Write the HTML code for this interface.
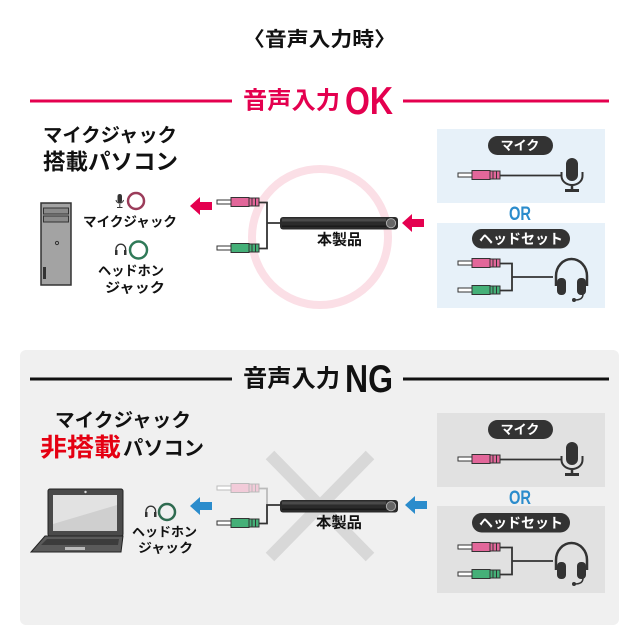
<!DOCTYPE html>
<html><head><meta charset="utf-8"><style>
html,body{margin:0;padding:0;background:#fff;}
svg{display:block;}
text{font-family:"Liberation Sans","Noto Sans CJK JP",sans-serif;font-weight:bold;}
</style></head><body>
<svg width="640" height="640" viewBox="0 0 640 640" xmlns="http://www.w3.org/2000/svg">
<defs>
 <g id="pp">
  <rect x="0" y="-2" width="14" height="4" fill="#fff" stroke="#333" stroke-width="1"/>
  <rect x="14" y="-4.5" width="18" height="9" fill="#e2679a" stroke="#333" stroke-width="1"/>
  <rect x="32" y="-4" width="10" height="8" fill="#e2679a" stroke="#333" stroke-width="1"/>
  <path d="M35 -4v8M38.5 -4v8" stroke="#333" stroke-width="1"/>
 </g>
 <g id="gp">
  <rect x="0" y="-2" width="14" height="4" fill="#fff" stroke="#333" stroke-width="1"/>
  <rect x="14" y="-4.5" width="18" height="9" fill="#45b078" stroke="#333" stroke-width="1"/>
  <rect x="32" y="-4" width="10" height="8" fill="#45b078" stroke="#333" stroke-width="1"/>
  <path d="M35 -4v8M38.5 -4v8" stroke="#333" stroke-width="1"/>
 </g>
 <g id="fp">
  <rect x="0" y="-2" width="14" height="4" fill="#fff" stroke="#bbb" stroke-width="1"/>
  <rect x="14" y="-4.5" width="18" height="9" fill="#f2cbd9" stroke="#bbb" stroke-width="1"/>
  <rect x="32" y="-4" width="10" height="8" fill="#f2cbd9" stroke="#bbb" stroke-width="1"/>
  <path d="M35 -4v8M38.5 -4v8" stroke="#bbb" stroke-width="1"/>
 </g>
 <g id="bar">
  <rect x="0" y="0" width="118" height="12.5" rx="3" fill="#2b2b2b"/>
  <rect x="2" y="1.5" width="104" height="3" fill="#4a4a4a"/>
  <rect x="2" y="8.5" width="104" height="1.5" fill="#1a1a1a"/>
  <circle cx="111" cy="6.2" r="4.6" fill="#666" stroke="#aaa" stroke-width="1"/>
 </g>
 <g id="panel">
  <text x="520" y="145.5" font-size="13" fill="#fff" text-anchor="middle" dominant-baseline="central">マイク</text>
  <use href="#pp" x="458" y="175"/>
  <path d="M500 175.5H561" stroke="#333" stroke-width="1.8" fill="none"/>
  <rect x="566" y="158" width="12" height="23" rx="6" fill="#333"/>
  <path d="M561.5 172V176A10.5 9 0 0 0 582.5 176V172" stroke="#333" stroke-width="2" fill="none"/>
  <path d="M572 185V190" stroke="#333" stroke-width="2.5"/>
  <path d="M565 190.5H579" stroke="#333" stroke-width="3"/>
  <use href="#pp" x="458" y="263"/>
  <use href="#gp" x="458" y="290"/>
  <path d="M500 263.5H512V290.5H500M512 277H553" stroke="#333" stroke-width="1.8" fill="none"/>
  <path d="M556 286V276A15.5 17 0 0 1 587 276V286" stroke="#333" stroke-width="2.5" fill="none"/>
  <rect x="557" y="278" width="9" height="17" rx="4" fill="#333"/>
  <rect x="577" y="278" width="9" height="17" rx="4" fill="#333"/>
  <path d="M583 294Q583 300 575 300" stroke="#333" stroke-width="1.5" fill="none"/>
  <circle cx="574" cy="300" r="2" fill="#333"/>
 </g>
</defs>

<!-- title -->
<text x="243" y="40" font-size="20" fill="#111" dominant-baseline="central" textLength="153" lengthAdjust="spacingAndGlyphs">〈音声入力時〉</text>

<!-- OK header -->
<path d="M30 101H232M403 101H609" stroke="#e4004f" stroke-width="3"/>
<text x="243" y="101" font-size="24" fill="#e4004f" dominant-baseline="central" textLength="97" lengthAdjust="spacingAndGlyphs">音声入力</text>
<text x="345" y="114" font-size="39" fill="#e4004f" textLength="48" lengthAdjust="spacingAndGlyphs">OK</text>

<!-- section 1 left -->
<text x="43" y="136" font-size="19" fill="#111" dominant-baseline="central" textLength="134" lengthAdjust="spacingAndGlyphs">マイクジャック</text>
<text x="43" y="162" font-size="22" fill="#111" dominant-baseline="central" textLength="135" lengthAdjust="spacingAndGlyphs">搭載パソコン</text>

<rect x="41" y="203" width="30" height="82" fill="#a3a3a3" stroke="#333" stroke-width="1.5"/>
<rect x="43.5" y="208" width="25" height="6" fill="#8a8a8a" stroke="#333" stroke-width="1"/>
<rect x="43.5" y="216" width="25" height="6" fill="#8a8a8a" stroke="#333" stroke-width="1"/>
<circle cx="57" cy="243" r="1.6" fill="none" stroke="#333" stroke-width="1"/>
<rect x="43" y="267" width="3" height="12" fill="#333"/>

<rect x="117.5" y="194" width="4.5" height="9" rx="2.2" fill="#333"/>
<path d="M116 200A3.8 3.8 0 0 0 123.5 200M119.8 204V207M117 207.5H122.5" stroke="#333" stroke-width="1" fill="none"/>
<circle cx="136" cy="201" r="8" fill="none" stroke="#9b3c5a" stroke-width="2.5"/>
<text x="83" y="222" font-size="13.5" fill="#111" dominant-baseline="central" textLength="94" lengthAdjust="spacingAndGlyphs">マイクジャック</text>

<path d="M116 254V249A4.8 4.8 0 0 1 125.6 249V254" stroke="#333" stroke-width="1.3" fill="none"/>
<rect x="115" y="250" width="2.5" height="5" fill="#333"/>
<rect x="124" y="250" width="2.5" height="5" fill="#333"/>
<circle cx="138.5" cy="250" r="8.5" fill="none" stroke="#2f7a58" stroke-width="2.5"/>
<text x="98" y="271" font-size="13.5" fill="#111" dominant-baseline="central" textLength="66" lengthAdjust="spacingAndGlyphs">ヘッドホン</text>
<text x="105" y="288" font-size="13.5" fill="#111" dominant-baseline="central" textLength="60" lengthAdjust="spacingAndGlyphs">ジャック</text>

<!-- pink circle -->
<circle cx="320" cy="237" r="68" fill="none" stroke="#fbdfe6" stroke-width="8"/>

<!-- red arrows -->
<polygon points="190,206 200,197 200,202 212,202 212,210 200,210 200,215" fill="#e4004f"/>
<polygon points="402,223 412,214 412,219 424,219 424,227 412,227 412,232" fill="#e4004f"/>

<!-- plugs/bar section 1 -->
<use href="#pp" x="217" y="202"/>
<use href="#gp" x="217" y="248"/>
<path d="M259 202.5H267V248.5H259M267 223H281" stroke="#333" stroke-width="1.8" fill="none"/>
<use href="#bar" x="280" y="217"/>
<text x="317" y="240" font-size="15" fill="#111" dominant-baseline="central" textLength="45" lengthAdjust="spacingAndGlyphs">本製品</text>

<!-- right panel OK -->
<rect x="437" y="129" width="168" height="74" fill="#e7f1f9"/>
<rect x="437" y="223" width="168" height="85" fill="#e7f1f9"/>
<rect x="488" y="136" width="65" height="19" rx="9.5" fill="#333"/>
<rect x="472" y="229" width="98" height="19.5" rx="9.7" fill="#333"/>
<text x="509" y="220" font-size="19" fill="#2b8ccc" textLength="22" lengthAdjust="spacingAndGlyphs">OR</text>
<text x="521" y="239" font-size="14" fill="#fff" text-anchor="middle" dominant-baseline="central">ヘッドセット</text>
<use href="#panel"/>

<!-- NG section -->
<rect x="20" y="350" width="599" height="275" rx="6" fill="#f0f0f0"/>
<path d="M30 379H232M403 379H609" stroke="#111" stroke-width="3"/>
<text x="243" y="379" font-size="24" fill="#111" dominant-baseline="central" textLength="97" lengthAdjust="spacingAndGlyphs">音声入力</text>
<text x="345" y="392" font-size="39" fill="#111" textLength="48" lengthAdjust="spacingAndGlyphs">NG</text>

<text x="55" y="421" font-size="19" fill="#111" dominant-baseline="central" textLength="136" lengthAdjust="spacingAndGlyphs">マイクジャック</text>
<text x="40" y="448" font-size="25" fill="#e50012" dominant-baseline="central" textLength="81" lengthAdjust="spacingAndGlyphs">非搭載</text>
<text x="123" y="449" font-size="20" fill="#111" dominant-baseline="central" textLength="81" lengthAdjust="spacingAndGlyphs">パソコン</text>

<!-- laptop -->
<rect x="48" y="489" width="75" height="47" rx="2" fill="#4a4a4a" stroke="#222" stroke-width="1"/>
<circle cx="85.5" cy="492" r="1.2" fill="#ddd"/>
<rect x="53" y="495" width="64" height="36" fill="#cfcfcf"/>
<polygon points="53,495 117,495 117,505 53,524" fill="#e2e2e2"/>
<polygon points="45,536 123,536 121,552 31,552" fill="#5a5a5a" stroke="#222" stroke-width="1"/>
<polygon points="47,539 119,539 118,545 41,545" fill="#3c3c3c"/>
<rect x="65" y="547" width="20" height="3" fill="#bbb"/>

<path d="M146 516V511A4.8 4.8 0 0 1 155.6 511V516" stroke="#333" stroke-width="1.3" fill="none"/>
<rect x="145" y="512" width="2.5" height="5" fill="#333"/>
<rect x="154" y="512" width="2.5" height="5" fill="#333"/>
<circle cx="167" cy="512" r="8" fill="none" stroke="#2f6b50" stroke-width="2.5"/>
<text x="132" y="532" font-size="13" fill="#111" dominant-baseline="central" textLength="65" lengthAdjust="spacingAndGlyphs">ヘッドホン</text>
<text x="138" y="548" font-size="13" fill="#111" dominant-baseline="central" textLength="55" lengthAdjust="spacingAndGlyphs">ジャック</text>

<!-- gray X -->
<path d="M270 455L370 557M370 455L270 557" stroke="#d8d8d8" stroke-width="12"/>

<!-- blue arrows -->
<polygon points="190,506 200,497 200,502 212,502 212,510 200,510 200,515" fill="#2b8ccc"/>
<polygon points="405,505 415,496 415,501 427,501 427,509 415,509 415,514" fill="#2b8ccc"/>

<use href="#fp" x="217" y="488"/>
<use href="#gp" x="217" y="523"/>
<path d="M259 488.5H267V505" stroke="#bbb" stroke-width="1.8" fill="none"/>
<path d="M259 523.5H267V505H281" stroke="#333" stroke-width="1.8" fill="none"/>
<use href="#bar" x="280" y="500"/>
<text x="316" y="523" font-size="15" fill="#111" dominant-baseline="central" textLength="46" lengthAdjust="spacingAndGlyphs">本製品</text>

<!-- right panel NG -->
<rect x="437" y="413" width="168" height="74" fill="#e1e1e1"/>
<rect x="437" y="506" width="168" height="87" fill="#e1e1e1"/>
<g transform="translate(0,284)">
 <rect x="488" y="136" width="65" height="19" rx="9.5" fill="#333"/>
 <rect x="472" y="229" width="98" height="19.5" rx="9.7" fill="#333"/>
 <text x="509" y="220" font-size="19" fill="#2b8ccc" textLength="22" lengthAdjust="spacingAndGlyphs">OR</text>
 <text x="521" y="239" font-size="14" fill="#fff" text-anchor="middle" dominant-baseline="central">ヘッドセット</text>
 <use href="#panel"/>
</g>
</svg>
</body></html>
